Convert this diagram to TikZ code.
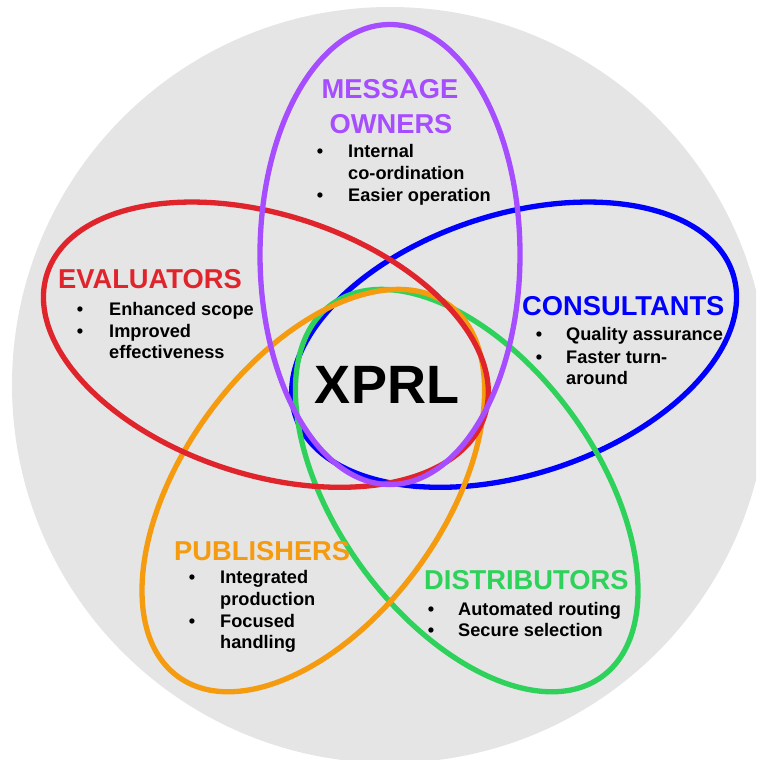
\documentclass[tikz,border=0pt]{standalone}
\usepackage{fontspec}
\setmainfont{Liberation Sans}
\definecolor{bggray}{RGB}{229,229,229}
\definecolor{cpurple}{RGB}{166,77,255}
\definecolor{cred}{RGB}{224,36,44}
\definecolor{cblue}{RGB}{0,0,255}
\definecolor{cgreen}{RGB}{46,209,90}
\definecolor{corange}{RGB}{245,155,15}
\tikzset{
  ellline/.style={line width=5.3pt},
  ttl/.style={inner sep=0pt, font=\fontsize{27.3}{32}\selectfont\bfseries},
  itm/.style={inner sep=0pt, anchor=base west, font=\fontsize{18.2}{22}\selectfont\bfseries, text=black},
  bul/.style={inner sep=0pt, anchor=base, font=\fontsize{18.2}{22}\selectfont\bfseries, text=black},
}
\begin{document}
\begin{tikzpicture}[x=1pt,y=-1pt]
\useasboundingbox (0,0) rectangle (756,760);
\clip (0,0) rectangle (756,760);
\coordinate (C) at (390,385);
\fill[bggray] (C) circle (378);
% ellipses (bottom to top)
\begin{scope}[shift={(390,385)}]
  \draw[ellline,cblue,rotate=-72] (0,-130.5) ellipse [x radius=130, y radius=230];
  \draw[ellline,cgreen,rotate=-144] (0,-130.5) ellipse [x radius=130, y radius=230];
  \draw[ellline,corange,rotate=144] (0,-130.5) ellipse [x radius=130, y radius=230];
  \draw[ellline,cred,rotate=72] (0,-130.5) ellipse [x radius=130, y radius=230];
  \draw[ellline,cpurple] (0,-130.5) ellipse [x radius=130, y radius=230];
\end{scope}
% centre
\node[inner sep=0pt, anchor=base, font=\fontsize{54}{60}\selectfont\bfseries] (xprl) at (387,403) {XPRL};
% message owners
\node[ttl, anchor=base, text=cpurple] (mo1) at (390,99) {MESSAGE};
\node[ttl, anchor=base, text=cpurple] (mo2) at (391,133) {OWNERS};
\node[bul] (mob1) at (320,157) {•};
\node[itm] (moi1) at (348,157) {Internal};
\node[itm] (moi2) at (348,179) {co-ordination};
\node[bul] (mob2) at (320,201) {•};
\node[itm] (moi3) at (348,201) {Easier operation};
% evaluators
\node[ttl, anchor=base west, text=cred] (ev) at (58,288) {EVALUATORS};
\node[bul] (evb1) at (80,315) {•};
\node[itm] (evi1) at (109,315) {Enhanced scope};
\node[bul] (evb2) at (80,337) {•};
\node[itm] (evi2) at (109,337) {Improved};
\node[itm] (evi3) at (109,358) {effectiveness};
% consultants
\node[ttl, anchor=base west, text=cblue] (co) at (522,315) {CONSULTANTS};
\node[bul] (cob1) at (539,340) {•};
\node[itm] (coi1) at (566,340) {Quality assurance};
\node[bul] (cob2) at (539,363) {•};
\node[itm] (coi2) at (566,363) {Faster turn-};
\node[itm] (coi3) at (566,384) {around};
% publishers
\node[ttl, anchor=base west, text=corange] (pu) at (174,560) {PUBLISHERS};
\node[bul] (pub1) at (192,583) {•};
\node[itm] (pui1) at (220,583) {Integrated};
\node[itm] (pui2) at (220,605) {production};
\node[bul] (pub2) at (192,627) {•};
\node[itm] (pui3) at (220,627) {Focused};
\node[itm] (pui4) at (220,648) {handling};
% distributors
\node[ttl, anchor=base west, text=cgreen] (di) at (424,589) {DISTRIBUTORS};
\node[bul] (dib1) at (431,615) {•};
\node[itm] (dii1) at (458,615) {Automated routing};
\node[bul] (dib2) at (431,636) {•};
\node[itm] (dii2) at (458,636) {Secure selection};
\end{tikzpicture}
\end{document}
